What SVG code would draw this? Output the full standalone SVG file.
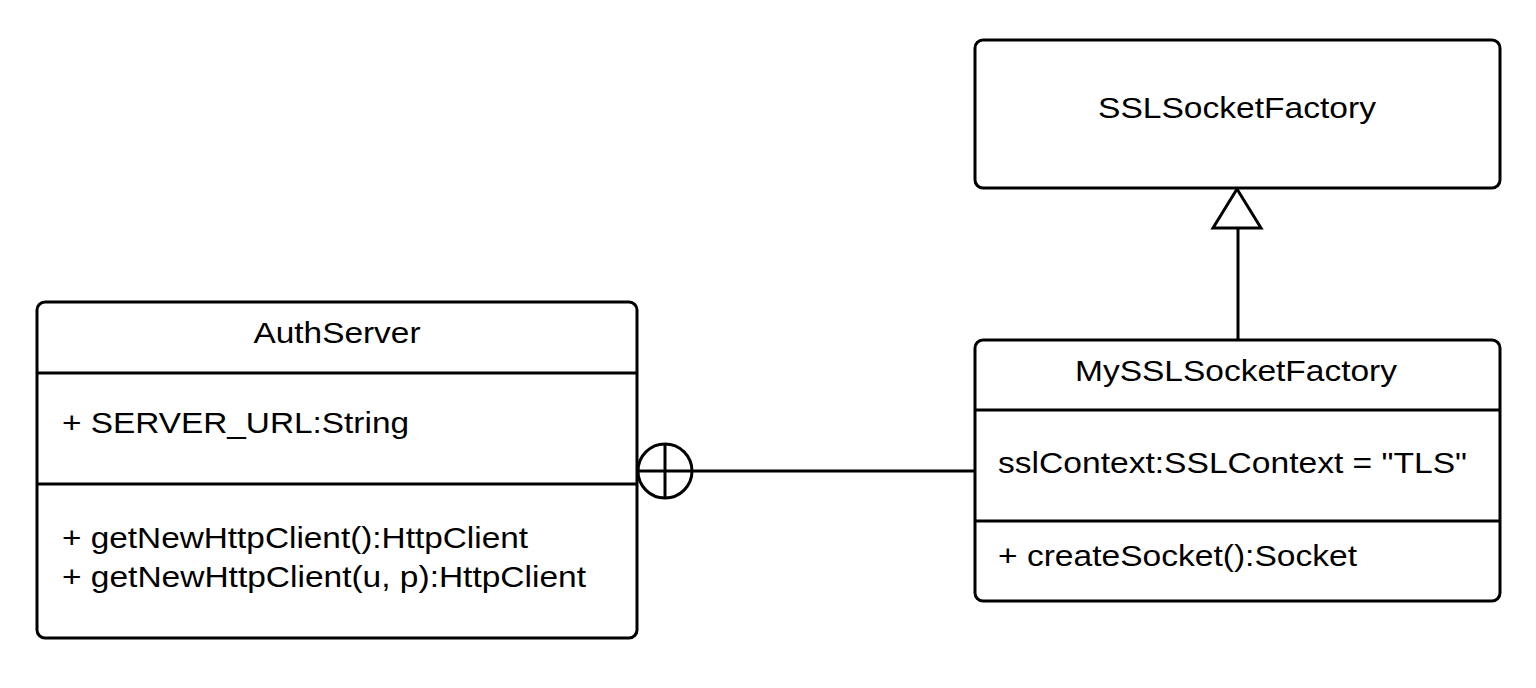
<svg xmlns="http://www.w3.org/2000/svg" width="1536" height="688" viewBox="0 0 1536 688">
<style>
.box{fill:#fff;stroke:#000;stroke-width:3}
.ln{stroke:#000;stroke-width:3;fill:none}
text{font-family:"Liberation Sans",Arial,sans-serif;font-size:29px;fill:#000}
.c{text-anchor:middle}
</style>
<rect width="1536" height="688" fill="#fff"/>
<g id="connectors">
<line class="ln" x1="692" y1="471" x2="975" y2="471"/>
<circle class="ln" cx="665" cy="471" r="27"/>
<line class="ln" x1="638" y1="471" x2="692" y2="471"/>
<line class="ln" x1="665" y1="444" x2="665" y2="498"/>
<line class="ln" x1="1238" y1="228" x2="1238" y2="340"/>
<polygon class="ln" points="1237,189 1213,228 1261,228" fill="#fff"/>
</g>
<g id="SSLSocketFactory">
<rect class="box" x="975" y="40" width="525" height="148" rx="8"/>
<text class="c" x="1237" y="118" textLength="278" lengthAdjust="spacingAndGlyphs">SSLSocketFactory</text>
</g>
<g id="AuthServer">
<rect class="box" x="37" y="302" width="600" height="336" rx="8"/>
<line class="ln" x1="37" y1="373" x2="637" y2="373"/>
<line class="ln" x1="37" y1="484" x2="637" y2="484"/>
<text class="c" x="337" y="343" textLength="167" lengthAdjust="spacingAndGlyphs">AuthServer</text>
<text x="62" y="433" textLength="347" lengthAdjust="spacingAndGlyphs">+ SERVER_URL:String</text>
<text x="62" y="548" textLength="466" lengthAdjust="spacingAndGlyphs">+ getNewHttpClient():HttpClient</text>
<text x="62" y="587" textLength="524" lengthAdjust="spacingAndGlyphs">+ getNewHttpClient(u, p):HttpClient</text>
</g>
<g id="MySSLSocketFactory">
<rect class="box" x="975" y="340" width="525" height="261" rx="8"/>
<line class="ln" x1="975" y1="410" x2="1500" y2="410"/>
<line class="ln" x1="975" y1="521" x2="1500" y2="521"/>
<text class="c" x="1236" y="381" textLength="322" lengthAdjust="spacingAndGlyphs">MySSLSocketFactory</text>
<text x="998" y="473" textLength="469" lengthAdjust="spacingAndGlyphs">sslContext:SSLContext = "TLS"</text>
<text x="998" y="566" textLength="359" lengthAdjust="spacingAndGlyphs">+ createSocket():Socket</text>
</g>
</svg>
